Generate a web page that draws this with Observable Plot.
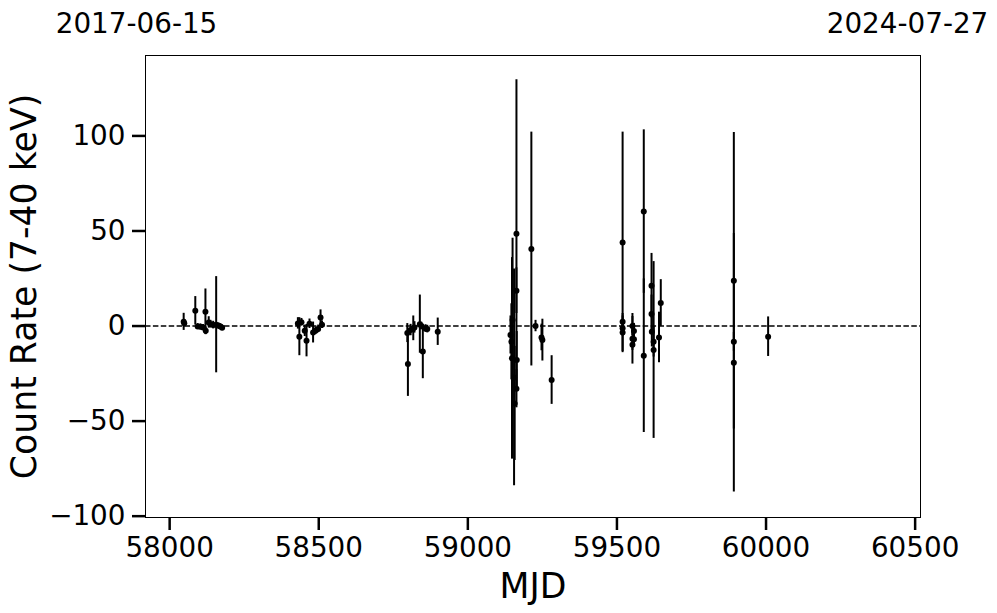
<!DOCTYPE html>
<html>
<head>
<meta charset="utf-8">
<script src="https://cdn.jsdelivr.net/npm/d3@7"></script>
<script src="https://cdn.jsdelivr.net/npm/@observablehq/plot@0.6"></script>
<style>
  html, body { margin: 0; padding: 0; background: #fff; }
  #chart svg { display: block; }
</style>
</head>
<body>
<div id="chart"></div>
<script>
// Observation dates (MJD), count rates (7-40 keV) and 1-sigma errors
const mjd = [
  58047, 58049, 58086, 58094, 58103, 58112, 58120, 58121, 58131, 58137, 58146, 58156, 58164, 58170, 58176,
  58430, 58435, 58442, 58453, 58459, 58469, 58481, 58489, 58498, 58506, 58511,
  58797, 58799, 58808, 58817, 58821, 58839, 58844, 58849, 58858, 58864, 58899,
  59143, 59146, 59148, 59150, 59155, 59157, 59163, 59163, 59164, 59163, 59213, 59227, 59247, 59250, 59281,
  59519, 59519, 59519, 59519, 59552, 59557, 59552, 59557, 59552, 59590, 59590,
  59616, 59616, 59617, 59623, 59623, 59641, 59647,
  59892, 59892, 59892, 60007
];
const rate = [
  2.2, 1.5, 8.0, -0.2, -0.4, -0.7, 7.5, -2.5, 1.9, 1.0, 0.5, 0.7, 0.1, -0.3, -0.9,
  1.4, -5.6, 2.0, -2.5, -7.7, 1.2, -3.4, -2.5, -1.5, 4.5, 0.7,
  -3.7, -20.0, -2.1, -1.2, -0.7, 1.0, 0.0, -13.4, -1.3, -1.6, -3.0,
  -4.7, -8.3, -17.0, 3.2, -27.0, -40.7, 48.5, 18.6, -17.9, -33.0, 40.5, 0.0, -6.0, -7.4, -28.4,
  44.0, 2.3, -1.2, -3.4, 0.0, -2.6, -6.7, -7.0, -9.8, 60.2, -15.6,
  21.2, 6.3, -3.0, -8.3, -12.6, -6.0, 12.1,
  23.8, -8.3, -19.3, -5.6
];
const err = [
  4.5, 2, 7.5, 1.5, 1.5, 1.5, 12, 2, 3, 2, 2, 25.3, 1.5, 1.5, 1.5,
  3, 10, 2, 3, 8.5, 2.5, 5.5, 2, 2, 4, 2,
  5, 17, 3, 6.5, 3, 15.3, 2, 14.3, 2, 2, 7.2,
  10, 20, 53, 43, 57, 30, 81, 12, 15, 10, 61.5, 3, 7, 11, 12.8,
  58, 3, 4, 10, 5, 4, 13.3, 3, 3, 43, 40.4,
  17, 10, 8, 8, 46.5, 13.3, 12.3,
  78, 5, 68, 10.4
];
const xTicks = [58000, 58500, 59000, 59500, 60000, 60500];
const yTicks = [-100, -50, 0, 50, 100];
const dateLabels = ["2017-06-15", "2024-07-27"];
const dateMjd = [57919, 60518];

const data = mjd.map((m, i) => ({mjd: m, rate: rate[i], err: err[i]}));

const chart = Plot.plot({
  width: 997,
  height: 613,
  marginLeft: 145,
  marginRight: 77,
  marginTop: 55,
  marginBottom: 96,
  style: {fontFamily: "DejaVu Sans", fontSize: "27.8px", background: "#fff", color: "#000"},
  x: {domain: [57919, 60518], axis: null},
  y: {domain: [-100.7, 142.3], axis: null},
  marks: [
    Plot.ruleY([0], {stroke: "#000", strokeWidth: 1.5, strokeDasharray: "5.5,2.4"}),
    Plot.ruleX(data, {x: "mjd", y1: d => d.rate - d.err, y2: d => d.rate + d.err, stroke: "#000", strokeWidth: 2}),
    Plot.dot(data, {x: "mjd", y: "rate", r: 3, fill: "#000", stroke: "none"}),
    Plot.frame({stroke: "#000", strokeWidth: 1}),
    Plot.axisX(xTicks, {tickSize: 13, tickPadding: 7, tickFormat: d3.format("d"), strokeWidth: 2.5, fontSize: 27.8, label: null}),
    Plot.axisY(yTicks, {tickSize: 13, tickPadding: 7, tickFormat: d3.format("d"), strokeWidth: 2.5, fontSize: 27.8, label: null}),
    Plot.text([dateLabels[0]], {x: [dateMjd[0]], text: d => d, frameAnchor: "top", textAnchor: "middle", lineAnchor: "bottom", dy: -23, dx: -9, fontSize: 27.8, fill: "#000"}),
    Plot.text([dateLabels[1]], {x: [dateMjd[1]], text: d => d, frameAnchor: "top", textAnchor: "middle", lineAnchor: "bottom", dy: -23, dx: -13, fontSize: 27.8, fill: "#000"}),
    Plot.text(["MJD"], {frameAnchor: "bottom", lineAnchor: "bottom", textAnchor: "middle", dy: 80, fontSize: 34.7, fill: "#000"}),
    Plot.text(["Count Rate (7-40 keV)"], {frameAnchor: "left", rotate: -90, textAnchor: "middle", lineAnchor: "bottom", dx: -110, fontSize: 34.7, fill: "#000"})
  ]
});
document.getElementById("chart").appendChild(chart);
</script>
</body>
</html>
